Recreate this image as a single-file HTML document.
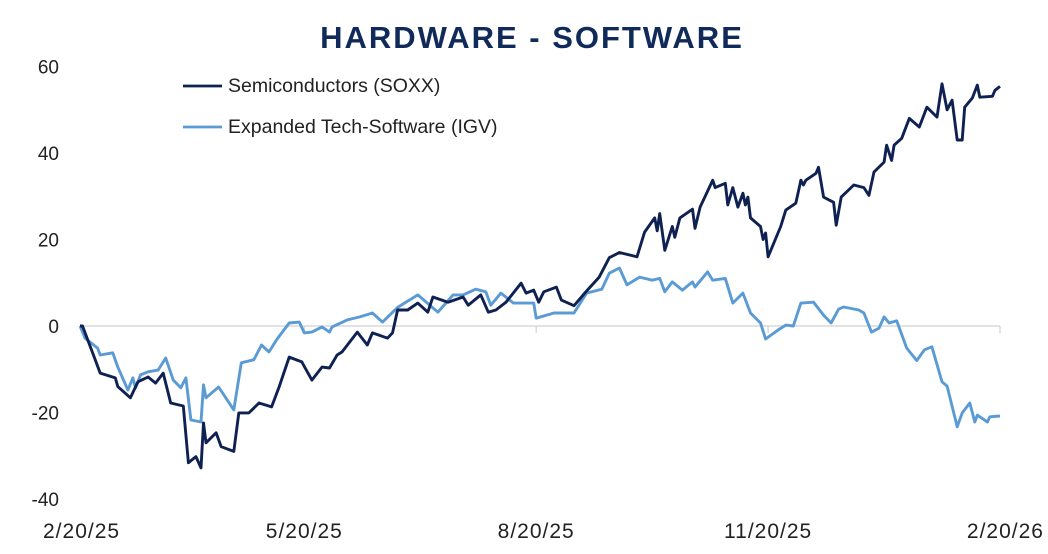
<!DOCTYPE html>
<html><head><meta charset="utf-8"><style>
body{margin:0;background:#fff;width:1048px;height:554px;overflow:hidden}
svg{display:block;font-family:"Liberation Sans",sans-serif}
</style></head><body>
<svg id="chart" width="1048" height="554">
<text x="532" y="48" text-anchor="middle" font-size="31" font-weight="bold" fill="#102a5a" letter-spacing="2">HARDWARE - SOFTWARE</text>
<g id="yaxis"></g>
<g id="xaxis"></g>
<g id="series"></g>
<g>
<line x1="183" y1="86" x2="222" y2="86" stroke="#0f2152" stroke-width="2.8"/>
<text x="228" y="92" font-size="19.5" fill="#222">Semiconductors (SOXX)</text>
<line x1="183" y1="127" x2="222" y2="127" stroke="#5b9bd5" stroke-width="2.8"/>
<text x="228" y="133" font-size="19.5" fill="#222">Expanded Tech-Software (IGV)</text>
</g>
</svg>
<script>
const yTicks=[60,40,20,0,-20,-40];
const xTickLabels=["2/20/25","5/20/25","8/20/25","11/20/25","2/20/26"];
const xTickDays=[0,89,181,273,365];
const soxxDays=[0,1,5,8,14,15,20,23,27,30,33,36,41,43,46,48,49,50,54,56,61,63,67,71,76,79,83,88,92,96,99,102,104,110,114,116,122,124,126,130,134,138,140,146,152,154,159,162,165,169,175,177,180,182,184,189,191,196,201,206,210,214,221,224,228,229,230,232,235,236,238,243,244,246,251,252,256,257,259,261,263,264,265,266,270,271,272,273,278,280,284,286,287,288,292,293,295,299,300,302,307,311,313,315,319,320,322,323,326,329,333,336,340,342,344,346,348,350,351,354,356,357,362,363,365];
const soxxValues=[0,0,-6.2,-10.9,-12,-14,-16.6,-12.9,-11.8,-13.2,-10.9,-17.8,-18.5,-31.6,-30.2,-32.8,-22.4,-27,-24.7,-27.9,-29,-20.1,-20.1,-17.8,-18.7,-14.1,-7.2,-8.3,-12.5,-9.5,-9.7,-6.7,-6,-1.4,-4.4,-1.6,-2.8,-1.6,3.7,3.7,5.3,3.2,6.7,5.5,6.7,4.8,7.2,3.2,3.7,5.5,9.9,7.6,8.3,5.5,7.9,9,6,4.7,8.1,11.3,15.8,17,16,21.7,25,22,26,17.5,23,20.5,25,27,22.6,27.5,33.7,32,33,28,32,27.5,30.7,28,29.8,25,23,20,21.5,16,23,26.8,28.4,33.7,32.6,33.7,35.3,36.7,29.8,28.6,23.3,29.8,32.6,32,30.2,35.6,37.9,41.8,38.3,41.8,43.4,48,46,50.6,48.3,56,50,52.2,43,43,50.6,52.7,55.7,52.9,53.1,54.5,55.4];
const igvDays=[0,2,7,8,13,15,19,21,22,24,27,31,34,37,40,42,44,48,49,50,55,61,64,69,72,75,78,83,87,89,92,96,99,100,106,111,116,120,126,134,142,148,152,157,161,163,167,172,180,181,188,196,201,207,210,214,217,222,227,230,232,235,239,243,244,249,251,256,259,263,266,270,272,277,280,283,286,291,295,298,301,303,309,311,314,317,319,321,324,328,332,335,338,342,344,348,350,353,355,356,360,361,365];
const igvValues=[0,-2.8,-5.1,-6.7,-6.2,-9.5,-14.8,-12,-14.3,-11.3,-10.6,-10.2,-7.4,-12.5,-14.3,-12,-21.7,-22.2,-13.6,-16.6,-14.1,-19.4,-8.5,-7.8,-4.4,-6,-3.2,0.7,0.9,-1.6,-1.4,-0.2,-1.4,-0.2,1.4,2.1,3,0.9,4.3,7.2,3.2,7.2,7.2,8.5,7.9,4.8,7.6,5.3,5.3,1.8,3,3,7.6,8.5,12.2,13.4,9.5,11.3,10.6,11,7.9,10.2,8.3,10.2,9,12.5,10.6,11,5.3,7.6,3,0.7,-3,-0.9,0.2,0,5.3,5.5,2.5,0.7,3.9,4.4,3.7,3,-1.4,-0.5,2.1,0.7,1.2,-5.1,-8,-5.5,-4.8,-12.9,-13.9,-23.3,-20.1,-17.8,-22.2,-20.6,-22.2,-21,-20.8];

const NS="http://www.w3.org/2000/svg";
const X0=80,X1=1000,Y0=326,PX=86.5/20;
function xs(d){return X0+(X1-X0)*d/365;}
function ys(v){return Y0-v*PX;}
const yg=document.getElementById('yaxis'),xg=document.getElementById('xaxis'),sg=document.getElementById('series');
function mk(t,a){const e=document.createElementNS(NS,t);for(const k in a)e.setAttribute(k,a[k]);return e;}
yTicks.forEach(v=>{
  const t=mk('text',{x:59,y:ys(v)+7,'text-anchor':'end','font-size':19,fill:'#222'});
  t.textContent=v;
  
  
  yg.appendChild(t);
});
const base=mk('line',{x1:xs(0),y1:ys(0),x2:xs(365),y2:ys(0),stroke:'#d9d9d9','stroke-width':1.5});


xg.appendChild(base);
xTickDays.forEach((d,i)=>{
  if(i>0){const tk=mk('line',{x1:xs(d),y1:ys(0),x2:xs(d),y2:ys(0)+7,stroke:'#d9d9d9','stroke-width':1.5});
  
  
  xg.appendChild(tk);}
  const anchor=i===0?'start':(i===xTickDays.length-1?'end':'middle');
  const xx=i===0?xs(d)-37:(i===xTickDays.length-1?xs(d)+44:xs(d));
  const t=mk('text',{x:xx,y:538,'text-anchor':anchor,'font-size':21,'letter-spacing':1,fill:'#222'});
  t.textContent=xTickLabels[i];
  
  
  xg.appendChild(t);
});
function line(days,vals,color,name){
  const p=mk('polyline',{points:days.map((d,i)=>xs(d).toFixed(1)+','+ys(vals[i]).toFixed(1)).join(' '),fill:'none',stroke:color,'stroke-width':2.9,'stroke-linejoin':'round'});
  
  
  sg.appendChild(p);
}
line(igvDays,igvValues,'#5b9bd5','igv-line');
line(soxxDays,soxxValues,'#0f2152','soxx-line');
</script>
</body></html>
